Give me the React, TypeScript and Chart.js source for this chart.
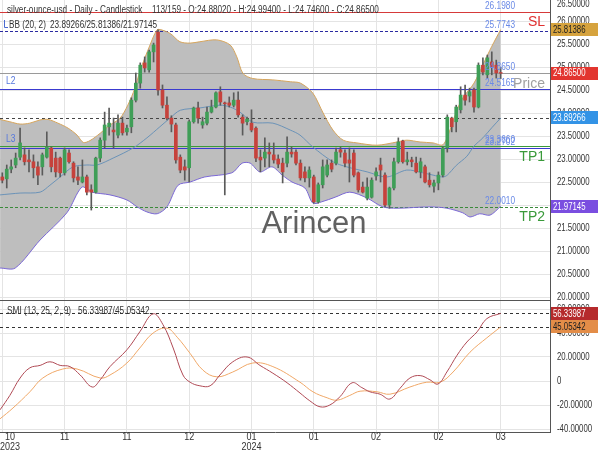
import { useEffect, useRef } from 'react';
import { Chart, registerables } from 'chart.js';
Chart.register(...registerables);

const FONT = "'Liberation Sans', Arial, sans-serif";

// ---- candle data (index 0..112) ----
const opens = [
  22.61, 22.57, 22.78, 22.87, 23.04, 23.09, 22.98, 22.94, 22.83, 22.83,
  23.04, 23.24, 23.02, 23.02, 22.70, 23.13, 22.91, 22.61, 22.50, 22.61,
  22.33, 22.28, 23.02, 23.41, 23.70, 23.63, 23.52, 23.78, 23.59, 23.70,
  24.28, 24.65, 25.09, 24.94, 25.33, 25.76, 24.50, 24.17, 23.89, 23.74,
  23.04, 22.83, 22.81, 23.81, 24.11, 23.74, 23.78, 24.02, 24.13, 24.46,
  24.22, 24.22, 24.17, 24.28, 23.91, 23.81, 23.78, 23.67, 23.04, 23.02,
  23.15, 23.09, 23.00, 22.91, 22.91, 23.15, 23.15, 22.91, 22.72, 22.59,
  22.61, 22.07, 22.44, 22.65, 22.91, 22.91, 23.20, 23.13, 22.98, 23.13,
  22.70, 22.39, 22.15, 22.17, 22.63, 22.87, 22.65, 22.00, 22.37, 22.94,
  23.39, 22.94, 22.98, 22.91, 22.72, 22.83, 22.54, 22.41, 22.48, 22.65,
  23.24, 23.89, 23.81, 24.07, 24.39, 24.37, 24.50, 24.13, 25.04, 24.83,
  25.11, 25.04, 24.8802,
];
const highs = [
  22.70, 22.87, 22.98, 23.13, 23.67, 23.24, 23.20, 23.09, 22.94, 23.13,
  23.59, 23.26, 23.15, 23.04, 23.24, 23.20, 22.94, 22.83, 22.98, 22.65,
  22.44, 23.04, 23.46, 24.02, 24.11, 23.89, 23.96, 23.91, 23.74, 24.33,
  24.87, 25.09, 25.22, 25.37, 25.52, 25.81, 24.61, 24.35, 23.94, 23.78,
  23.09, 22.98, 23.85, 24.13, 24.24, 23.91, 24.13, 24.28, 24.46, 24.57,
  24.24, 24.35, 24.44, 24.46, 23.96, 23.91, 24.07, 23.70, 23.20, 23.46,
  23.35, 23.35, 23.09, 23.02, 23.48, 23.26, 23.20, 22.98, 22.83, 22.83,
  22.65, 22.48, 22.98, 22.98, 22.98, 23.24, 23.26, 23.20, 23.24, 23.20,
  22.72, 22.50, 22.59, 22.59, 22.81, 23.02, 22.70, 22.39, 23.02, 23.46,
  23.41, 23.15, 23.04, 23.04, 23.02, 22.87, 22.70, 22.54, 22.72, 23.26,
  23.96, 23.91, 24.17, 24.57, 24.61, 24.54, 24.54, 25.09, 25.20, 25.26,
  25.33, 25.15, 24.994,
];
const lows = [
  22.48, 22.37, 22.70, 22.81, 22.98, 22.87, 22.72, 22.59, 22.44, 22.65,
  23.02, 22.72, 22.61, 22.61, 22.65, 22.91, 22.50, 22.44, 22.48, 22.22,
  21.89, 22.26, 22.94, 23.24, 23.52, 23.24, 23.46, 23.52, 23.52, 23.57,
  24.24, 24.54, 24.89, 24.89, 25.11, 24.39, 24.11, 23.85, 23.59, 22.91,
  22.70, 22.54, 22.50, 23.78, 23.78, 23.67, 23.74, 24.00, 24.11, 24.17,
  22.22, 24.13, 24.13, 23.91, 23.52, 23.74, 23.59, 22.94, 22.72, 22.83,
  22.83, 22.91, 22.81, 22.48, 22.83, 23.04, 22.87, 22.54, 22.50, 22.39,
  22.04, 22.04, 22.37, 22.61, 22.72, 22.87, 23.04, 22.83, 22.50, 22.61,
  22.28, 22.26, 22.11, 22.15, 22.54, 22.50, 21.96, 21.93, 22.33, 22.91,
  22.91, 22.87, 22.83, 22.70, 22.59, 22.48, 22.39, 22.28, 22.33, 22.61,
  23.15, 23.59, 23.59, 24.00, 24.17, 24.24, 24.02, 24.11, 24.83, 24.76,
  24.83, 24.76, 24.746,
];
const closes = [
  22.54, 22.78, 22.83, 23.02, 23.35, 22.94, 22.94, 22.81, 22.65, 23.09,
  23.26, 22.83, 22.72, 22.70, 23.20, 22.94, 22.59, 22.54, 22.61, 22.28,
  22.28, 23.02, 23.41, 23.74, 23.78, 23.59, 23.78, 23.57, 23.67, 24.28,
  24.65, 25.04, 24.98, 25.33, 25.48, 24.50, 24.17, 23.89, 23.76, 22.98,
  22.76, 22.76, 23.81, 24.11, 23.89, 23.81, 24.02, 24.13, 24.44, 24.24,
  24.20, 24.17, 24.28, 23.96, 23.78, 23.87, 23.63, 23.02, 22.98, 23.15,
  23.11, 22.98, 22.89, 22.72, 23.15, 23.11, 22.91, 22.59, 22.59, 22.76,
  22.07, 22.44, 22.83, 22.87, 22.78, 23.15, 23.15, 22.91, 22.91, 22.65,
  22.33, 22.28, 22.39, 22.54, 22.72, 22.76, 22.00, 22.37, 22.94, 23.37,
  22.94, 22.98, 22.94, 22.72, 22.94, 22.50, 22.44, 22.48, 22.65, 23.24,
  23.91, 23.70, 24.13, 24.39, 24.28, 24.46, 24.13, 25.04, 24.89, 25.20,
  25.00, 24.87, 24.865,
];

// ---- Bollinger bands (sampled points: candle index, value) ----
const bbUpperX = [-0.5, 1.7, 4, 6.2, 8.5, 10.3, 12.5, 14.8, 16.8, 18.2, 19.7, 22, 24.2, 26.4, 28.2, 29.8, 30.9, 32, 33.2, 34.3, 35, 37.7, 39.9, 42.2, 44.4, 48.2, 51.2, 52.7, 54.1, 56.3, 60.8, 64.7, 67, 69.8, 72.1, 74.3, 76.6, 79.7, 84.2, 88.7, 90.9, 93.9, 96.8, 99, 100.6, 102.2, 103.5, 106, 108, 110, 112];
const bbUpperY = [23.86, 23.81, 23.76, 23.78, 23.85, 23.86, 23.78, 23.67, 23.52, 23.36, 23.40, 23.56, 23.74, 23.88, 24.17, 24.54, 24.90, 25.19, 25.48, 25.73, 25.82, 25.73, 25.55, 25.52, 25.55, 25.59, 25.48, 25.22, 24.86, 24.75, 24.72, 24.68, 24.65, 24.43, 24.00, 23.63, 23.41, 23.35, 23.30, 23.37, 23.41, 23.37, 23.35, 23.31, 23.63, 24.07, 24.33, 24.65, 25.05, 25.45, 25.81386];
const bbMidX = [-0.5, 4, 8.5, 10.7, 13, 15.9, 19, 21.3, 24.9, 29.4, 32.5, 35.4, 37.7, 40, 44.4, 48.9, 51.2, 53.4, 56.3, 60.8, 64.7, 66.9, 69.8, 74.3, 77.4, 82, 86.4, 90.9, 94.5, 96.8, 99, 100, 102, 104.4, 106, 108, 110, 112];
const bbMidY = [22.22, 22.26, 22.28, 22.43, 22.61, 22.83, 22.87, 22.87, 23.02, 23.24, 23.46, 23.70, 23.89, 24.06, 24.11, 24.17, 24.13, 24.02, 23.80, 23.78, 23.63, 23.52, 23.26, 22.94, 22.83, 22.72, 22.61, 22.76, 22.70, 22.65, 22.61, 22.65, 22.86, 23.06, 23.28, 23.46, 23.68, 23.89266];
const bbLowerX = [-0.5, 2.9, 8.5, 14.5, 17.9, 20.1, 24.2, 28, 30.3, 32.5, 34.8, 37, 39.5, 42.2, 45.5, 51.6, 53.9, 55.7, 57.9, 60.6, 62.9, 65.1, 68, 69.8, 71.8, 74.8, 78.1, 82, 85.5, 88.7, 96.1, 99.9, 103.5, 105.1, 107.3, 109.6, 112];
const bbLowerY = [20.63, 20.63, 21.24, 21.83, 22.39, 22.28, 22.22, 22.11, 21.96, 21.85, 21.81, 21.96, 22.43, 22.50, 22.61, 22.70, 22.91, 22.91, 22.72, 22.83, 22.65, 22.50, 22.37, 22.04, 22.07, 22.17, 22.28, 22.15, 21.96, 21.93, 21.96, 21.93, 21.83, 21.74, 21.81, 21.78, 21.97145];

// ---- SMI (13,25,2,9) ----
const smiX = [-0.5, 1.7, 4, 6.2, 8.5, 10.7, 13, 15.2, 17.5, 20.2, 22, 24.2, 28, 30.9, 33.9, 36.1, 38.4, 40.6, 42.2, 44.4, 46.7, 48.9, 51.8, 55, 57.9, 60.8, 64, 66.9, 69.1, 71.4, 73.6, 75.9, 78.6, 80.8, 82.6, 84.9, 87.1, 89.4, 91.6, 93.9, 96.1, 97.9, 99.9, 102.2, 104.4, 106.7, 108.9, 112];
const smiY = [-24, -12, 2.5, 11, 13, 16, 13, 12, 5, -5, 1, 12, 26, 41, 56, 47, 27.5, 5, -1, -4, -4, 5, 16, 20, 13, 6.5, -1.5, -10, -16.5, -21.5, -20, -13, -1.5, -5.5, -9, -11, -15, -6, 2.5, 4.5, 1, -2.5, 7.5, 21.5, 32.5, 41, 52, 56.33987];
const sigX = [-0.5, 2.4, 6.2, 9.1, 13.6, 16.8, 22, 24.2, 28, 30.9, 33.9, 37, 39.3, 42.2, 45.1, 48.2, 51.8, 56.3, 60.8, 66.9, 69.8, 73, 75.2, 78.1, 80.4, 84.2, 87.1, 91.6, 95.4, 98.4, 101.3, 105.1, 108.9, 112];
const sigY = [-31.5, -22.5, -9, 2.5, 10, 10, 2.5, 5, 15, 27.5, 40, 44, 36.5, 23, 9, 3.5, 7.5, 15, 12, -1, -9, -14, -16, -12, -8.5, -9, -11, -5, -1, -1, 7.5, 24, 36, 45.05342];

// ---- axes ----
const xTickIdx = [0, 14, 28, 42, 56, 70, 84, 98, 112];
const xTickTop = ['10', '11', '11', '12', '01', '01', '02', '02', '03'];
const xTickBottom = ['2023', '', '', '', '2024', '', '', '', ''];
const priceTicks = [20, 20.5, 21, 21.5, 22, 22.5, 23, 23.5, 24, 24.5, 25, 25.5, 26, 26.5];
const smiTicks = [-40, -20, 0, 20, 40, 60];

// ---- horizontal levels ----
const levelVals = [26.198, 25.7743, 24.865, 24.5165, 23.89266, 23.288, 23.232, 21.958];
const levelTexts = ['26.1980', '25.7743', '24.8650', '24.5165', '', '23.3660', '23.2702', '22.0010'];
const levelColors = ['#d63a3a', '#2a2aa0', '#9a9a9a', '#3a3ad0', '#444444', '#3a9a3a', '#3a3ad0', '#3a8a3a'];
const levelDash = [[], [3, 2], [], [], [3, 3], [], [], [3, 2]];

const priceBoxVals = [25.81386, 24.865, 23.89266, 21.97145];
const priceBoxBg = ['#d6a33e', '#e2352f', '#3393e6', '#7a4ee0'];
const priceBoxFg = ['#222', '#fff', '#fff', '#fff'];
const smiBoxVals = [56.33987, 45.05342];
const smiBoxBg = ['#b52a2c', '#e38d48'];
const smiBoxFg = ['#fff', '#222'];

const X_MIN = -0.517;
const X_MAX = 123.08;
const GREEN = '#3f9e57';
const RED = '#c6423c';
const GRID = '#e4e4e4';

function narrow(ctx: CanvasRenderingContext2D, text: string, x: number, y: number, size: number, sx: number, align: 'left' | 'center' | 'right' = 'left') {
  ctx.save();
  ctx.font = `${size}px ${FONT}`;
  ctx.textBaseline = 'middle';
  ctx.textAlign = align;
  ctx.translate(x, y);
  ctx.scale(sx, 1);
  ctx.fillText(text, 0, 0);
  ctx.restore();
}

function narrowWidth(ctx: CanvasRenderingContext2D, text: string, size: number, sx: number) {
  ctx.save();
  ctx.font = `${size}px ${FONT}`;
  const w = ctx.measureText(text).width * sx;
  ctx.restore();
  return w;
}

function drawBox(ctx: CanvasRenderingContext2D, y: number, text: string, bg: string, fg: string) {
  ctx.fillStyle = bg;
  ctx.fillRect(551, Math.round(y - 6.5), 47, 13);
  ctx.fillStyle = fg;
  narrow(ctx, text, 553, y + 0.5, 10, 0.78);
}

function drawYLabels(ctx: CanvasRenderingContext2D, y: any, ticks: number[], fmt: (v: number) => string, minY: number, maxY: number) {
  ctx.fillStyle = '#333';
  ticks.forEach((v) => {
    const py = Math.min(Math.max(y.getPixelForValue(v), minY), maxY);
    narrow(ctx, fmt(v), 557, py, 10, 0.78);
  });
}

const mainOverlay = {
  id: 'mainOverlay',
  beforeDatasetsDraw(chart: any) {
    const { ctx, chartArea: a, scales } = chart;
    const y = scales.y;
    ctx.save();
    ctx.beginPath();
    ctx.rect(a.left, a.top, a.right - a.left, a.bottom - a.top);
    ctx.clip();
    levelVals.forEach((v, k) => {
      const py = Math.round(y.getPixelForValue(v)) + 0.5;
      ctx.strokeStyle = levelColors[k];
      ctx.lineWidth = 1;
      ctx.setLineDash(levelDash[k]);
      ctx.beginPath();
      ctx.moveTo(a.left, py);
      ctx.lineTo(a.right, py);
      ctx.stroke();
    });
    ctx.restore();
  },
  afterDraw(chart: any) {
    const { ctx, scales } = chart;
    const y = scales.y;
    ctx.save();
    ctx.setLineDash([]);
    // watermark
    ctx.font = `31px ${FONT}`;
    ctx.fillStyle = 'rgba(80,80,80,0.9)';
    ctx.textAlign = 'center';
    ctx.textBaseline = 'middle';
    ctx.fillText('Arincen', 314, 224);
    // level labels
    ctx.fillStyle = '#6a8ae6';
    levelVals.forEach((v, k) => {
      if (!levelTexts[k]) return;
      narrow(ctx, levelTexts[k], 485, y.getPixelForValue(v) - 6, 10, 0.83);
    });
    // tags
    ctx.font = `14px ${FONT}`;
    ctx.textAlign = 'right';
    ctx.textBaseline = 'middle';
    ctx.fillStyle = '#e03030';
    ctx.fillText('SL', 545, y.getPixelForValue(levelVals[1]) - 9);
    ctx.fillStyle = '#a0a0a0';
    ctx.fillText('Price', 545, y.getPixelForValue(levelVals[3]) - 5);
    ctx.fillStyle = '#3a9a3a';
    ctx.fillText('TP1', 545, y.getPixelForValue(levelVals[5]) + 11);
    ctx.fillText('TP2', 545, y.getPixelForValue(levelVals[7]) + 10);
    ctx.fillStyle = '#5577dd';
    narrow(ctx, 'L2', 6, y.getPixelForValue(levelVals[3]) - 8, 10, 0.85);
    narrow(ctx, 'L3', 6, y.getPixelForValue(levelVals[6]) - 9, 10, 0.85);
    // header
    ctx.fillStyle = '#333';
    narrow(ctx, 'silver-ounce-usd - Daily - Candlestick', 7, 10, 10, 0.82);
    narrow(ctx, '113/159 - O:24.88020 - H:24.99400 - L:24.74600 - C:24.86500', 152, 10, 10, 0.82);
    narrow(ctx, 'BB (20, 2)', 9, 25, 10, 0.82);
    narrow(ctx, '23.89266/25.81386/21.97145', 50, 25, 10, 0.82);
    ctx.strokeStyle = '#4a6ad0';
    ctx.lineWidth = 1;
    ctx.beginPath();
    ctx.moveTo(4.5, 20);
    ctx.lineTo(4.5, 27.5);
    ctx.lineTo(8, 27.5);
    ctx.stroke();
    // axis labels and value boxes
    drawYLabels(ctx, y, priceTicks, (v) => v.toFixed(5), 4, 297);
    priceBoxVals.forEach((v, k) => drawBox(ctx, y.getPixelForValue(v), v.toFixed(5), priceBoxBg[k], priceBoxFg[k]));
    ctx.restore();
  },
};

const smiOverlay = {
  id: 'smiOverlay',
  beforeDatasetsDraw(chart: any) {
    const { ctx, chartArea: a, scales } = chart;
    const y = scales.y;
    ctx.save();
    ctx.strokeStyle = '#333';
    ctx.lineWidth = 1;
    ctx.setLineDash([3, 3]);
    smiBoxVals.forEach((v) => {
      const py = Math.round(y.getPixelForValue(v)) + 0.5;
      ctx.beginPath();
      ctx.moveTo(a.left, py);
      ctx.lineTo(a.right, py);
      ctx.stroke();
    });
    ctx.restore();
  },
  afterDraw(chart: any) {
    const { ctx, chartArea: a, scales } = chart;
    const y = scales.y;
    const x = scales.x;
    ctx.save();
    ctx.strokeStyle = '#555';
    ctx.lineWidth = 1;
    ctx.beginPath();
    ctx.moveTo(0, 0.5);
    ctx.lineTo(a.right, 0.5);
    ctx.stroke();
    ctx.fillStyle = '#333';
    narrow(ctx, 'SMI (13, 25, 2, 9)', 7, 11, 10, 0.83);
    narrow(ctx, '56.33987/45.05342', 78, 11, 10, 0.83);
    xTickIdx.forEach((v, k) => {
      const px = x.getPixelForValue(v);
      const w = Math.max(narrowWidth(ctx, xTickTop[k], 10, 0.9), narrowWidth(ctx, xTickBottom[k], 10, 0.9));
      const cx = Math.max(px, w / 2);
      narrow(ctx, xTickTop[k], cx, 137, 10, 0.9, 'center');
      if (xTickBottom[k]) narrow(ctx, xTickBottom[k], cx, 147, 10, 0.9, 'center');
    });
    drawYLabels(ctx, y, smiTicks, (v) => (v === 0 ? '0' : v.toFixed(5)), 0, 150);
    smiBoxVals.forEach((v, k) => drawBox(ctx, y.getPixelForValue(v), v.toFixed(5), smiBoxBg[k], smiBoxFg[k]));
    ctx.restore();
  },
};

function xScale(height: number, showBorder: boolean) {
  return {
    type: 'linear',
    min: X_MIN,
    max: X_MAX,
    bounds: 'data',
    offset: false,
    grid: { color: GRID, drawTicks: false, offset: false },
    border: { display: showBorder, color: '#555' },
    ticks: { display: false },
    afterBuildTicks: (s: any) => { s.ticks = xTickIdx.map((v) => ({ value: v })); },
    afterFit: (s: any) => { s.height = height; s.paddingLeft = 0; s.paddingRight = 0; },
  };
}

function yScale(min: number, max: number, ticks: number[]) {
  return {
    position: 'right',
    min,
    max,
    bounds: 'data',
    grid: { color: GRID, drawTicks: false },
    border: { color: '#555' },
    ticks: { display: false },
    afterBuildTicks: (s: any) => { s.ticks = ticks.map((v) => ({ value: v })); },
    afterFit: (s: any) => { s.width = 50; s.paddingTop = 0; s.paddingBottom = 0; },
  };
}

export default function App() {
  const mainRef = useRef<HTMLCanvasElement>(null);
  const smiRef = useRef<HTMLCanvasElement>(null);

  useEffect(() => {
    const idx = opens.map((_, i) => i);
    const main = new Chart(mainRef.current as HTMLCanvasElement, {
      type: 'bar',
      data: {
        datasets: [
          {
            type: 'bar',
            data: idx.map((i) => ({ x: i, y: [opens[i], closes[i]] })) as any,
            backgroundColor: idx.map((i) => (closes[i] >= opens[i] ? GREEN : RED)),
            barThickness: 3,
            grouped: false,
          } as any,
          {
            type: 'bar',
            data: idx.map((i) => ({ x: i, y: [lows[i], highs[i]] })) as any,
            backgroundColor: '#5a5a5a',
            barThickness: 1,
            grouped: false,
          } as any,
          {
            type: 'line',
            data: bbMidX.map((x, k) => ({ x, y: bbMidY[k] })),
            borderColor: '#6b93b8',
            borderWidth: 1,
            pointRadius: 0,
            tension: 0.3,
            fill: false,
          },
          {
            type: 'line',
            data: bbUpperX.map((x, k) => ({ x, y: bbUpperY[k] })),
            borderColor: '#d6a55c',
            backgroundColor: '#bebebe',
            borderWidth: 1,
            pointRadius: 0,
            tension: 0.3,
            fill: '+1',
          },
          {
            type: 'line',
            data: bbLowerX.map((x, k) => ({ x, y: bbLowerY[k] })),
            borderColor: '#7b68d6',
            borderWidth: 1,
            pointRadius: 0,
            tension: 0.3,
            fill: false,
          },
        ],
      },
      options: {
        responsive: false,
        animation: false,
        devicePixelRatio: 1,
        events: [],
        layout: { padding: 0 },
        plugins: {
          legend: { display: false },
          tooltip: { enabled: false },
          filler: { drawTime: 'beforeDatasetsDraw' },
        } as any,
        scales: {
          x: xScale(0, false) as any,
          y: yScale(19.935, 26.457, priceTicks) as any,
        },
      },
      plugins: [mainOverlay],
    });

    const smi = new Chart(smiRef.current as HTMLCanvasElement, {
      type: 'line',
      data: {
        datasets: [
          {
            data: smiX.map((x, k) => ({ x, y: smiY[k] })),
            borderColor: '#b04a55',
            borderWidth: 1,
            pointRadius: 0,
            tension: 0.4,
            fill: false,
          },
          {
            data: sigX.map((x, k) => ({ x, y: sigY[k] })),
            borderColor: '#f0a868',
            borderWidth: 1,
            pointRadius: 0,
            tension: 0.4,
            fill: false,
          },
        ],
      },
      options: {
        responsive: false,
        animation: false,
        devicePixelRatio: 1,
        events: [],
        layout: { padding: 0 },
        plugins: { legend: { display: false }, tooltip: { enabled: false } },
        scales: {
          x: xScale(18, true) as any,
          y: yScale(-42.5, 67.5, smiTicks) as any,
        },
      },
      plugins: [smiOverlay],
    });

    return () => {
      main.destroy();
      smi.destroy();
    };
  }, []);

  return (
    <div style={{ position: 'fixed', left: 0, top: 0, width: 600, height: 450, background: '#fff' }}>
      <canvas ref={mainRef} width={600} height={300} style={{ position: 'absolute', left: 0, top: 0, width: 600, height: 300, display: 'block' }} />
      <canvas ref={smiRef} width={600} height={150} style={{ position: 'absolute', left: 0, top: 300, width: 600, height: 150, display: 'block' }} />
    </div>
  );
}
